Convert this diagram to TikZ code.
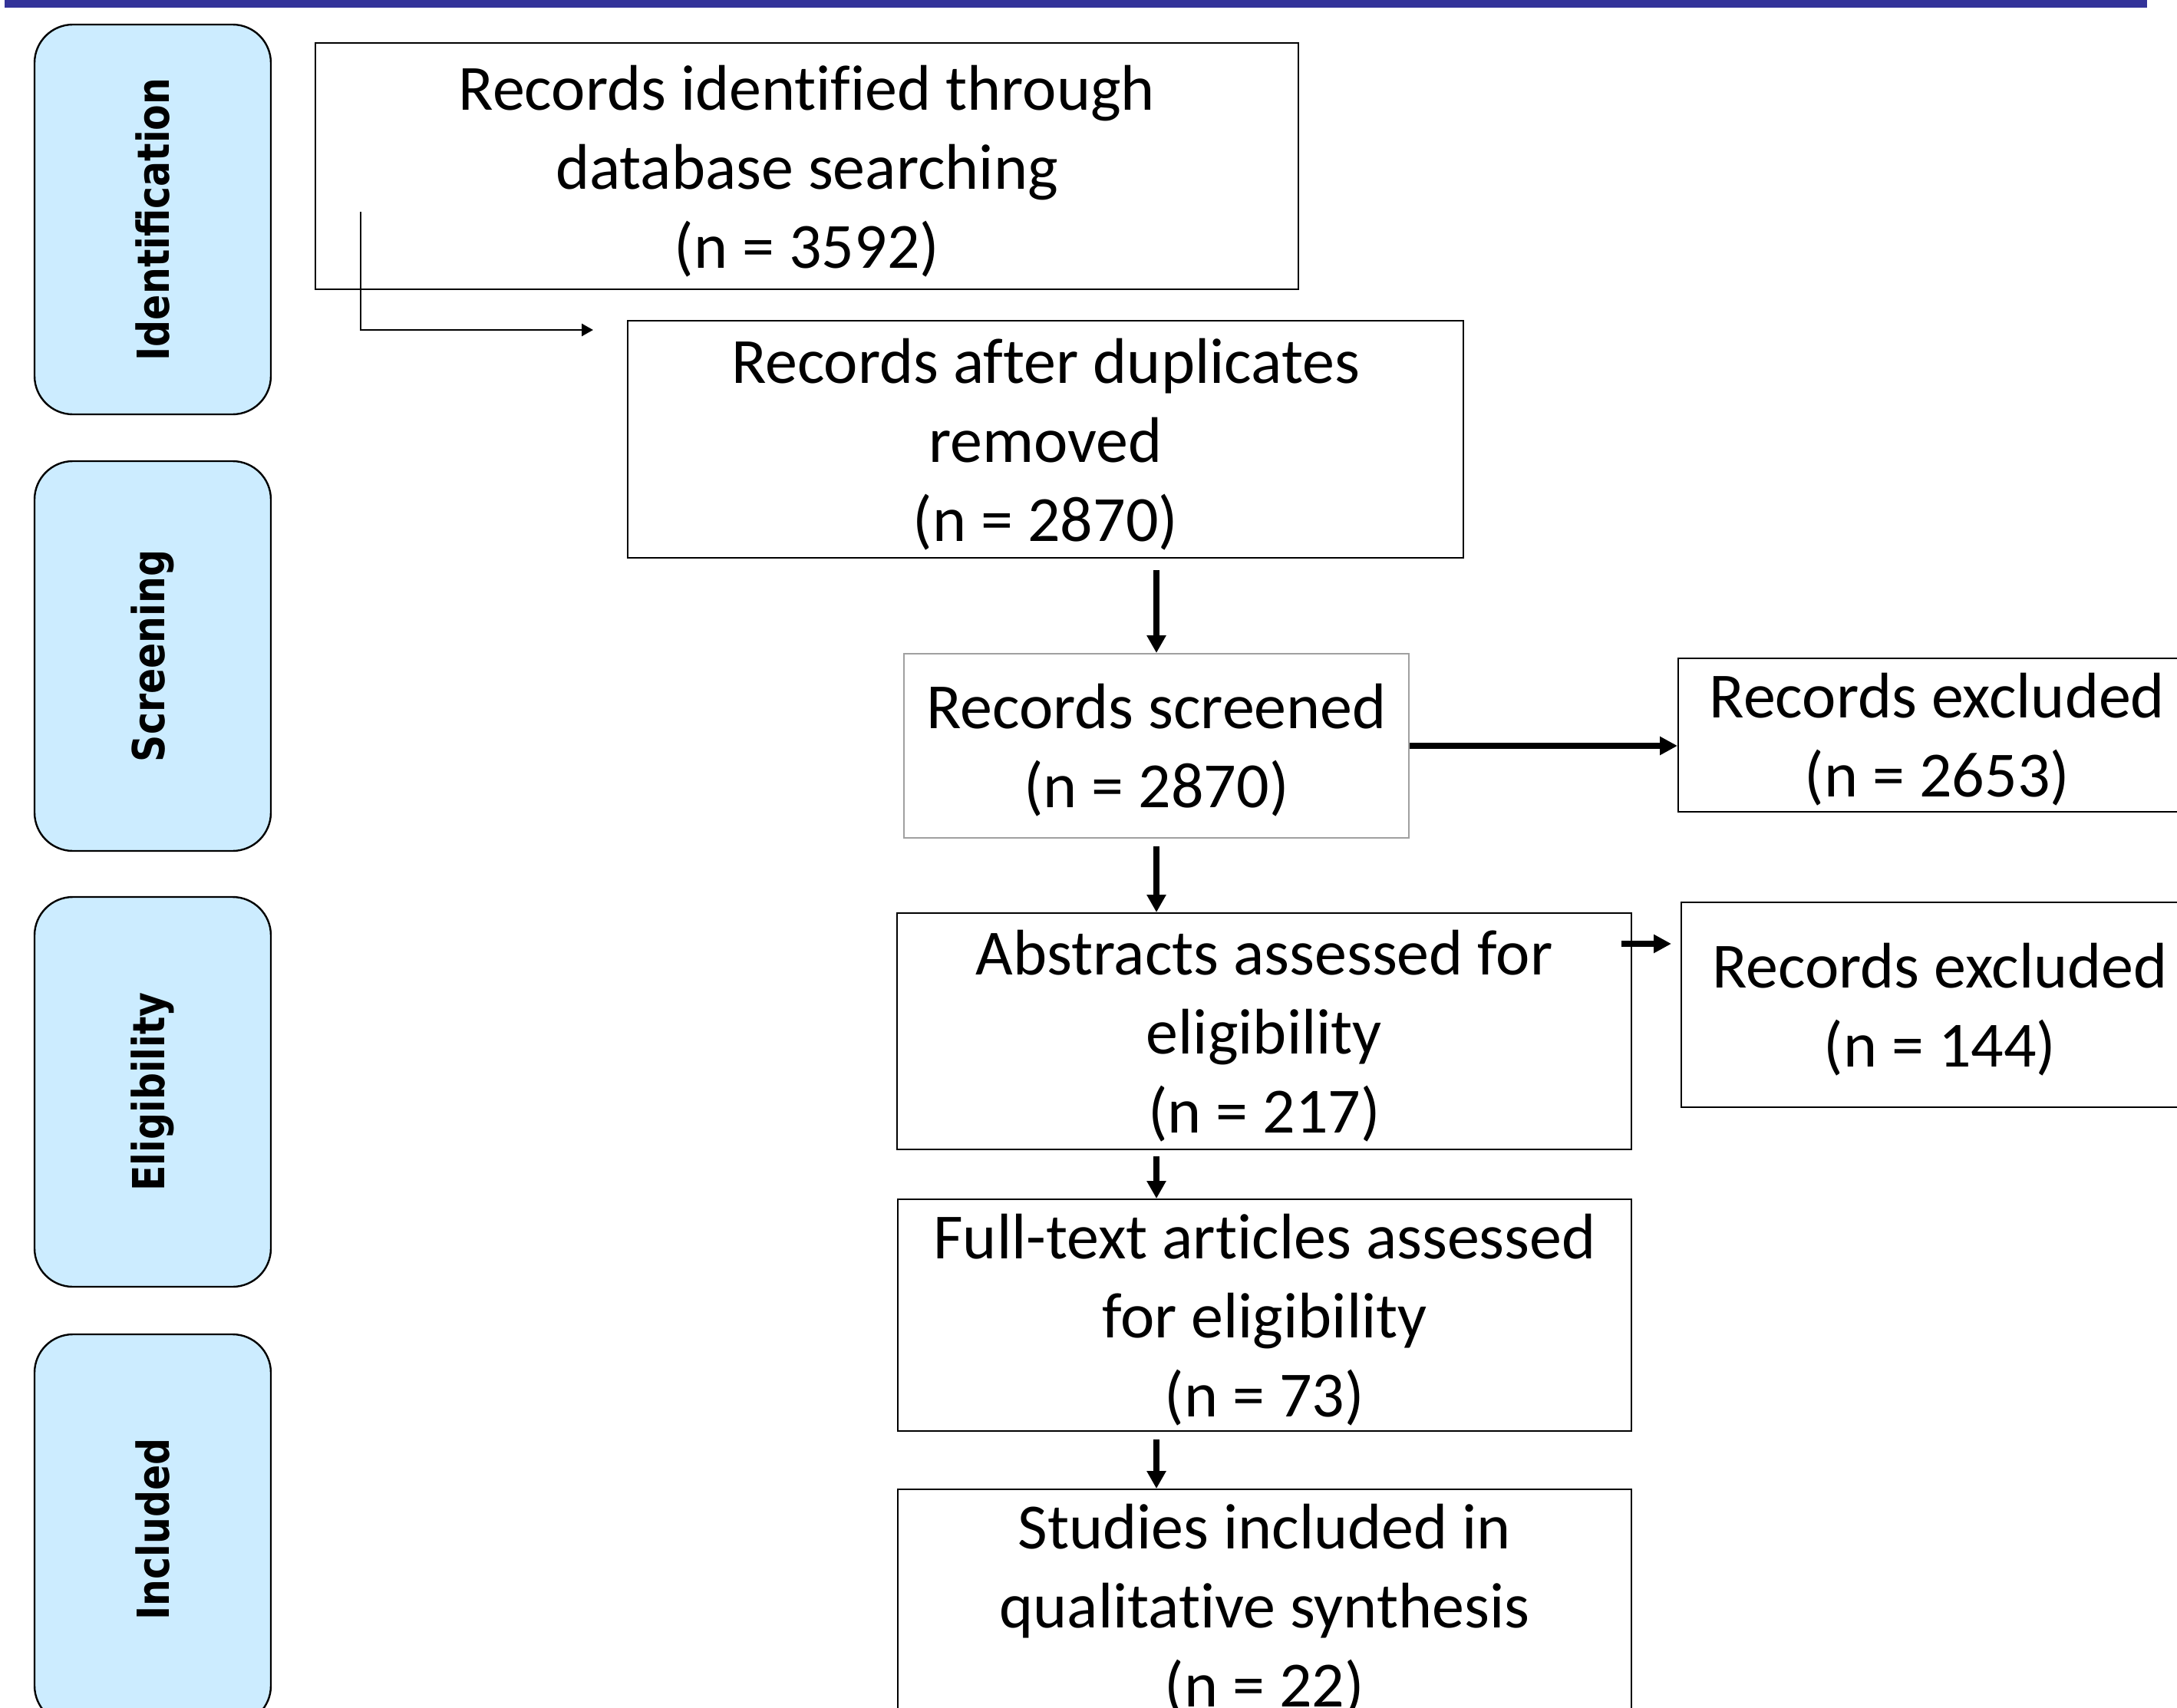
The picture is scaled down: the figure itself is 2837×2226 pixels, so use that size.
\documentclass[tikz,border=0pt]{standalone}
\usepackage{graphicx}
\usepackage{fontspec}
\setmainfont{Carlito}[Ligatures=NoCommon]
\newfontfamily\sidefont{DejaVu Sans}
\usetikzlibrary{arrows.meta}
\definecolor{barblue}{HTML}{333399}
\definecolor{sidefill}{HTML}{CCECFF}
\definecolor{graybord}{HTML}{A0A0A0}
\begin{document}
\begin{tikzpicture}[x=0.25pt,y=-0.25pt,
  mainbox/.style={draw=black, line width=0.5pt, fill=white, inner sep=0pt, align=center,
    font=\fontsize{21pt}{25.75pt}\selectfont},
  threeline/.style={text height=69.2pt},
  twoline/.style={text height=43.4pt},
  sidebox/.style={draw=black, line width=0.6pt, fill=sidefill, rounded corners=12.5pt,
    rotate=90, minimum width=127pt, minimum height=77pt, inner sep=0pt,
    font=\sidefont\bfseries\fontsize{14.4pt}{17pt}\selectfont},
  arr/.style={line width=1.9pt, -{Triangle[length=5.75pt,width=6pt]}},
  harr/.style={line width=2.1pt, -{Triangle[length=5.75pt,width=5.75pt]}},
  thinarr/.style={line width=0.7pt, -{Triangle[length=3.75pt,width=4pt]}}]
\useasboundingbox (0,0) rectangle (2837,2226);
\clip (0,0) rectangle (2837,2226);
% top bar
\fill[barblue] (6,0) rectangle (2798,10);
% side boxes
\node[sidebox] (sid) at (199,286) {\scalebox{0.85}[1]{Identification}};
\node[sidebox] (sscr) at (199,855) {\scalebox{0.85}[1]{Screening}};
\node[sidebox] (seli) at (199,1423) {\scalebox{0.85}[1]{Eligibility}};
\node[sidebox] (sinc) at (199,1993) {\scalebox{0.85}[1]{Included}};
% main boxes
\node[mainbox, threeline, minimum width=320.25pt, minimum height=80.25pt] (b1) at (1051.5,216.5)
  {Records identified through\\database searching\\(n = 3592)};
\node[mainbox, threeline, minimum width=272.25pt, minimum height=77.25pt] (b2) at (1362.5,572.5)
  {Records after duplicates\\removed\\(n = 2870)};
\node[mainbox, twoline, draw=graybord, minimum width=164.5pt, minimum height=60pt] (b3) at (1507,972)
  {Records screened\\(n = 2870)};
\node[mainbox, twoline, minimum width=168.75pt, minimum height=50pt] (b4) at (2524.5,958)
  {Records excluded\\(n = 2653)};
\node[mainbox, threeline, minimum width=239.25pt, minimum height=77pt] (b5) at (1647.5,1344)
  {Abstracts assessed for\\eligibility\\(n = 217)};
\node[mainbox, twoline, minimum width=168.5pt, minimum height=66.75pt] (b6) at (2528,1309.5)
  {Records excluded\\(n = 144)};
\node[mainbox, threeline, minimum width=239pt, minimum height=75.5pt] (b7) at (1648,1714)
  {Full-text articles assessed\\for eligibility\\(n = 73)};
\node[mainbox, threeline, minimum width=239pt, minimum height=75.5pt] (b8) at (1648,2092)
  {Studies included in\\qualitative synthesis\\(n = 22)};
% connectors
\coordinate (e0) at (470,276);
\coordinate (e1) at (773,430);
\draw[thinarr] (e0) |- (e1);
\draw[arr] (b3.north |- b2.south) ++(0,15) -- (b3.north);
\draw[harr] (b3.east) -- (b3.east -| b4.west);
\draw[arr] (b3.south) ++(0,10) -- (b3.south |- b5.north);
\draw[harr] (b5.north east) ++(-14,41) -- ++(65,0);
\draw[arr] (b3.south |- b5.south) ++(0,8) -- (b3.south |- b7.north);
\draw[arr] (b3.south |- b7.south) ++(0,10) -- (b3.south |- b8.north);
\end{tikzpicture}
\end{document}
